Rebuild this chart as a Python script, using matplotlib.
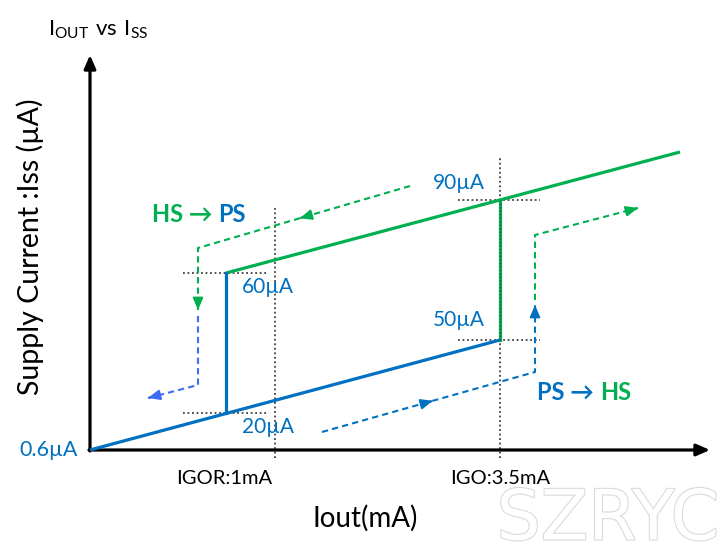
import matplotlib
matplotlib.use('Agg')
import matplotlib.pyplot as plt
import matplotlib.patheffects as pe

plt.rcParams['font.family'] = ['Lato', 'DejaVu Sans']
plt.rcParams['mathtext.fontset'] = 'custom'
plt.rcParams['mathtext.rm'] = 'Lato'

BLUE = '#0070C0'
GREEN = '#00B050'
LIGHT_BLUE = '#3D6BF5'
DOT = '#404040'

# schematic coordinates (origin = where the axes meet)
axis_x_end = 620
axis_y_end = 395

# PS (low) branch and HS (high) branch
blue_x = [0, 410]
blue_y = [0, 110]
green_x = [136, 590]
green_y = [177, 298]
# jumps between branches
jump_down_x = [136, 136]
jump_down_y = [37, 177]
jump_up_x = [410, 410]
jump_up_y = [110, 250]

# tick positions on the x axis
tick_x = [185, 410]
tick_label_x = [134, 410]
tick_labels = ['IGOR:1mA', 'IGO:3.5mA']
tick_top = [243, 292]

# level labels
level_text = ['60µA', '20µA', '90µA', '50µA']
level_x = [152, 152, 343, 343]
level_y = [163, 23, 267, 130]
guide_y = [177, 37, 250, 110]
guide_x0 = [93, 93, 368, 368]
guide_x1 = [177, 177, 450, 450]

# dashed direction arrows: HS -> PS
hs_ps_green_x = [320, 108, 108]
hs_ps_green_y = [264, 202, 140]
hs_ps_blue_x = [108, 108, 58]
hs_ps_blue_y = [134, 65, 52]
# PS -> HS
ps_hs_blue_x = [232, 445, 445]
ps_hs_blue_y = [18, 78, 145]
ps_hs_green_x = [445, 445, 548]
ps_hs_green_y = [150, 215, 242]

fig = plt.figure(figsize=(7.2, 5.53), dpi=100)
ax = fig.add_axes([0, 0, 1, 1])
ax.set_xlim(-90, 630)
ax.set_ylim(-103, 450)
ax.axis('off')

# axes with arrow heads
arrow_kw = dict(arrowstyle='-|>,head_length=0.8,head_width=0.35', color='black', lw=2.3,
                shrinkA=0, shrinkB=0)
ax.annotate('', xy=(axis_x_end, 0), xytext=(-1, 0), arrowprops=arrow_kw)
ax.annotate('', xy=(0, axis_y_end), xytext=(0, -1), arrowprops=arrow_kw)

# dotted guides
for x, top in zip(tick_x, tick_top):
    ax.plot([x, x], [-8, top], color=DOT, lw=1.3, ls=(0, (1, 1.5)), zorder=1)
for y, x0, x1 in zip(guide_y, guide_x0, guide_x1):
    ax.plot([x0, x1], [y, y], color=DOT, lw=1.3, ls=(0, (1, 1.5)), zorder=1)

# main curves
ax.plot(blue_x, blue_y, color=BLUE, lw=2.3, solid_capstyle='butt', zorder=3)
ax.plot(green_x, green_y, color=GREEN, lw=2.3, solid_capstyle='butt', zorder=3)
ax.plot(jump_down_x, jump_down_y, color=BLUE, lw=2.3, zorder=3)
ax.plot(jump_up_x, jump_up_y, color=GREEN, lw=2.3, zorder=2)
ax.plot(jump_up_x, jump_up_y, color=DOT, lw=1.0, ls=(0, (1, 1.5)), zorder=4)


def dashed_path(xs, ys, color, mid=False):
    ax.plot(xs, ys, color=color, lw=1.5, ls=(0, (3, 2)), zorder=2)
    head = dict(arrowstyle='-|>,head_length=0.7,head_width=0.3', color=color, lw=1.5,
                shrinkA=0, shrinkB=0)
    dx = xs[-1] - xs[-2]
    dy = ys[-1] - ys[-2]
    L = (dx ** 2 + dy ** 2) ** 0.5
    ax.annotate('', xy=(xs[-1], ys[-1]),
                xytext=(xs[-1] - dx / L * 2, ys[-1] - dy / L * 2), arrowprops=head)
    if mid:
        dx = xs[1] - xs[0]
        dy = ys[1] - ys[0]
        L = (dx ** 2 + dy ** 2) ** 0.5
        mx = xs[0] + dx * 0.52
        my = ys[0] + dy * 0.52
        ax.annotate('', xy=(mx, my), xytext=(mx - dx / L * 2, my - dy / L * 2),
                    arrowprops=head)


dashed_path(hs_ps_green_x, hs_ps_green_y, GREEN, mid=True)
dashed_path(hs_ps_blue_x, hs_ps_blue_y, LIGHT_BLUE)
dashed_path(ps_hs_blue_x, ps_hs_blue_y, BLUE, mid=True)
dashed_path(ps_hs_green_x, ps_hs_green_y, GREEN)

# texts
ax.text(8, 420, r'$\mathregular{I_{OUT}\ vs\ I_{SS}}$', fontsize=16, ha='center', va='center')
ax.text(-60, 203, 'Supply Current :Iss (µA)', fontsize=20.5, rotation=90,
        ha='center', va='center')
ax.text(275, -68, 'Iout(mA)', fontsize=20, ha='center', va='center')
for x, lab in zip(tick_label_x, tick_labels):
    ax.text(x, -28, lab, fontsize=14.5, ha='center', va='center')
ax.text(-12, 0, '0.6µA', fontsize=15.5, color=BLUE, ha='right', va='center')
for t, x, y in zip(level_text, level_x, level_y):
    ax.text(x, y, t, fontsize=15, color=BLUE, ha='left', va='center')


def two_color(x, y, first, c1, second, c2):
    t1 = ax.text(x, y, first + ' \u2192 ', fontsize=17, fontweight='bold', color=c1,
                 ha='left', va='baseline')
    ax.annotate(second, xy=(1, 0), xycoords=t1, fontsize=17, fontweight='bold',
                color=c2, ha='left', va='bottom')


two_color(62, 228, 'HS', GREEN, 'PS', BLUE)
two_color(447, 50, 'PS', BLUE, 'HS', GREEN)

# watermark
ax.text(518, -70, 'SZRYC', fontsize=50, color='white', ha='center', va='center',
        family=['Liberation Sans Narrow', 'DejaVu Sans'],
        path_effects=[pe.withStroke(linewidth=1.5, foreground='#D8D8D8')])

fig.savefig('out.png', dpi=100)
